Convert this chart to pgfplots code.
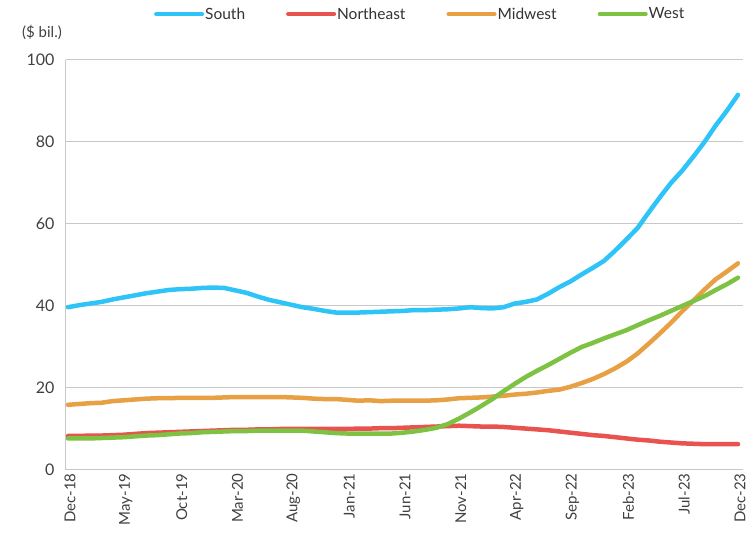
\documentclass[border=0pt]{standalone}
\usepackage{pgfplots}
\usepackage{pgfplotstable}
\pgfplotsset{compat=1.18}
\usepackage{fontspec}
\setmainfont{Lato}

\definecolor{south}{HTML}{2EC4F7}
\definecolor{northeast}{HTML}{E8524F}
\definecolor{midwest}{HTML}{E8A045}
\definecolor{west}{HTML}{7DC242}
\definecolor{axisgray}{HTML}{C8C8C8}
\definecolor{labelgray}{HTML}{404040}

% Monthly values, $ bil.; m = months since Dec 2018
\pgfplotstableread{
m  south northeast midwest west
0  39.7  8.3  15.9  7.7
1  40.2  8.3  16.1  7.7
2  40.6  8.4  16.3  7.7
3  41.0  8.4  16.4  7.8
4  41.6  8.5  16.8  7.9
5  42.1  8.6  17.0  8.0
6  42.6  8.8  17.2  8.2
7  43.1  9.0  17.4  8.4
8  43.5  9.1  17.5  8.5
9  43.9  9.2  17.5  8.7
10 44.1  9.3  17.6  8.9
11 44.2  9.4  17.6  9.0
12 44.4  9.5  17.6  9.2
13 44.5  9.6  17.6  9.3
14 44.4  9.7  17.7  9.4
15 43.8  9.8  17.8  9.5
16 43.2  9.8  17.8  9.5
17 42.3  9.9  17.8  9.6
18 41.5  9.9  17.8  9.6
19 40.9  10.0 17.8  9.6
20 40.3  10.0 17.7  9.6
21 39.7  10.0 17.6  9.6
22 39.3  10.0 17.4  9.4
23 38.8  10.0 17.3  9.2
24 38.4  10.0 17.3  9.0
25 38.4  10.0 17.1  8.9
26 38.4  10.1 16.9  8.9
27 38.5  10.1 17.0  8.9
28 38.6  10.2 16.8  8.9
29 38.7  10.2 16.9  8.9
30 38.8  10.3 16.9  9.1
31 39.0  10.4 16.9  9.4
32 39.0  10.5 16.9  9.8
33 39.1  10.6 17.0  10.3
34 39.2  10.7 17.2  11.2
35 39.4  10.8 17.5  12.5
36 39.7  10.7 17.6  14.0
37 39.5  10.6 17.7  15.6
38 39.4  10.6 17.9  17.3
39 39.7  10.5 18.1  19.2
40 40.6  10.3 18.4  21.0
41 41.0  10.1 18.6  22.7
42 41.6  9.9  18.9  24.2
43 43.0  9.7  19.3  25.6
44 44.6  9.4  19.6  27.1
45 46.0  9.1  20.3  28.6
46 47.7  8.8  21.2  30.0
47 49.3  8.5  22.2  31.0
48 51.0  8.3  23.4  32.1
49 53.5  8.0  24.8  33.1
50 56.2  7.7  26.4  34.1
51 59.0  7.4  28.4  35.3
52 62.8  7.2  30.8  36.5
53 66.5  6.9  33.3  37.6
54 70.0  6.7  35.9  38.8
55 73.0  6.5  38.7  40.0
56 76.4  6.4  41.3  41.2
57 80.0  6.3  44.0  42.4
58 84.0  6.3  46.5  43.9
59 87.6  6.3  48.4  45.3
60 91.5  6.3  50.4  46.9
}\regiondata

\begin{document}
\begin{tikzpicture}
\path[use as bounding box] (-66pt,-64pt) rectangle (686pt,470pt);
\begin{axis}[
  scale only axis,
  width=677pt, height=410pt,
  xmin=-0.18, xmax=60.45,
  ymin=0, ymax=100,
  clip=false,
  axis x line*=bottom,
  axis y line*=left,
  axis line style={draw=axisgray, line width=1pt},
  ymajorgrids,
  major grid style={draw=axisgray, line width=1pt},
  major tick length=0pt,
  ytick={0,20,...,100},
  xtick={0,5,...,60},
  xticklabels={Dec-18,May-19,Oct-19,Mar-20,Aug-20,Jan-21,Jun-21,Nov-21,Apr-22,Sep-22,Feb-23,Jul-23,Dec-23},
  /pgf/number format/assume math mode=true,
  tick label style={text=labelgray},
  yticklabel style={font=\fontsize{16}{19}\selectfont, xshift=-8pt},
  xticklabel style={font=\fontsize{15}{18}\selectfont, rotate=90, anchor=east, yshift=-2pt},
  legend columns=4,
  legend cell align=left,
  legend style={
    at={(axis cs:31.5,111.2)}, anchor=center,
    draw=none, fill=none,
    font=\fontsize{15.5}{18}\selectfont, text=black!80,
    /tikz/every even column/.append style={column sep=40pt},
    nodes={inner sep=1pt},
  },
  legend image code/.code={\draw[#1, line width=4pt] (0pt,0pt) -- (46pt,0pt);},
  every axis plot/.append style={line width=4.5pt, line join=round, line cap=round},
]
\addplot[south, no marks] table[x=m, y=south] {\regiondata};
\addlegendentry{South}
\addplot[northeast, no marks] table[x=m, y=northeast] {\regiondata};
\addlegendentry{Northeast}
\addplot[midwest, no marks] table[x=m, y=midwest] {\regiondata};
\addlegendentry{Midwest}
\addplot[west, no marks] table[x=m, y=west] {\regiondata};
\addlegendentry{West}
\node[anchor=center, font=\fontsize{15}{18}\selectfont, text=labelgray] at (axis cs:-2.33,106.8) {(\$ bil.)};
\end{axis}
\end{tikzpicture}
\end{document}
